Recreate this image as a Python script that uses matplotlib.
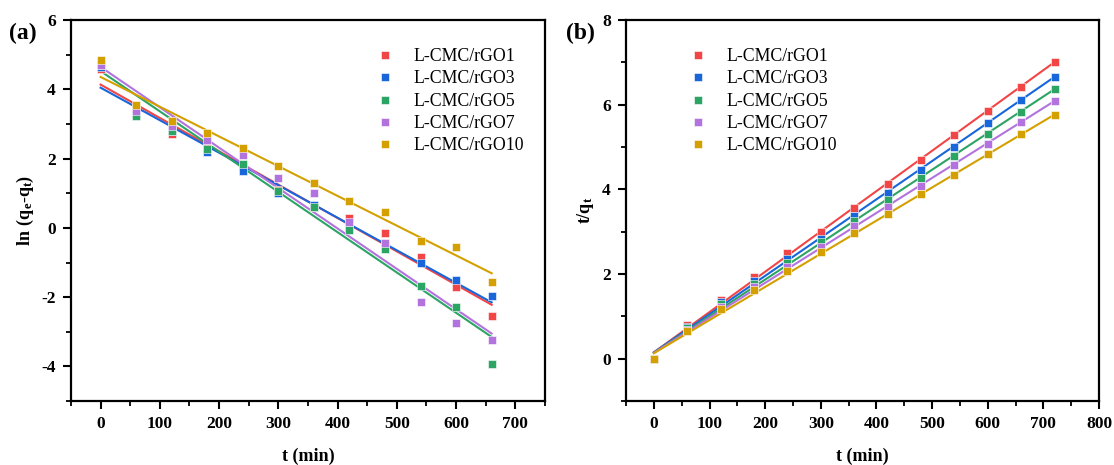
import matplotlib
matplotlib.use("Agg")
import matplotlib.pyplot as plt
from matplotlib.ticker import MultipleLocator

plt.rcParams['font.family'] = ['Liberation Serif', 'DejaVu Serif']
plt.rcParams['mathtext.fontset'] = 'custom'
plt.rcParams['mathtext.rm'] = 'Liberation Serif'
plt.rcParams['mathtext.bf'] = 'Liberation Serif:bold'
plt.rcParams['axes.unicode_minus'] = False

labels = ["L-CMC/rGO1", "L-CMC/rGO3", "L-CMC/rGO5", "L-CMC/rGO7", "L-CMC/rGO10"]
colors = ["#F24545", "#1866DA", "#2CA464", "#B273DE", "#D4A000"]

# (a) pseudo-first-order
t_a = [0, 60, 120, 180, 240, 300, 360, 420, 480, 540, 600, 660]
ln_rGO1 = [4.60, 3.45, 2.70, 2.30, 1.75, 1.10, 0.60, 0.29, -0.15, -0.85, -1.70, -2.54]
ln_rGO3 = [4.65, 3.30, 2.80, 2.19, 1.64, 1.02, 0.65, 0.00, -0.50, -1.00, -1.50, -1.97]
ln_rGO5 = [4.70, 3.22, 2.80, 2.29, 1.85, 1.08, 0.60, -0.06, -0.61, -1.67, -2.28, -3.94]
ln_rGO7 = [4.70, 3.37, 2.93, 2.53, 2.12, 1.45, 1.01, 0.16, -0.45, -2.13, -2.76, -3.24]
ln_rGO10 = [4.85, 3.55, 3.09, 2.74, 2.30, 1.78, 1.30, 0.79, 0.47, -0.39, -0.56, -1.55]
ln_series = [ln_rGO1, ln_rGO3, ln_rGO5, ln_rGO7, ln_rGO10]
# fitted line values read at t = 0 and t = 660
fit_a_t = [0, 660]
fit_a_start = [4.14, 4.05, 4.53, 4.65, 4.36]
fit_a_end = [-2.22, -2.15, -3.15, -3.05, -1.31]

# (b) pseudo-second-order
t_b = [0, 60, 120, 180, 240, 300, 360, 420, 480, 540, 600, 660, 720]
tq_rGO1 = [0, 0.80, 1.38, 1.94, 2.49, 2.99, 3.56, 4.13, 4.70, 5.28, 5.85, 6.43, 7.01]
tq_rGO3 = [0, 0.75, 1.33, 1.84, 2.36, 2.83, 3.38, 3.92, 4.45, 5.01, 5.56, 6.11, 6.66]
tq_rGO5 = [0, 0.72, 1.29, 1.76, 2.25, 2.75, 3.26, 3.75, 4.27, 4.78, 5.32, 5.84, 6.37]
tq_rGO7 = [0, 0.69, 1.23, 1.69, 2.16, 2.63, 3.13, 3.59, 4.08, 4.57, 5.07, 5.59, 6.09]
tq_rGO10 = [0, 0.66, 1.17, 1.62, 2.08, 2.51, 2.97, 3.42, 3.90, 4.35, 4.83, 5.30, 5.77]
tq_series = [tq_rGO1, tq_rGO3, tq_rGO5, tq_rGO7, tq_rGO10]
fit_b_t = [0, 720]
fit_b_start = [0.15, 0.15, 0.14, 0.14, 0.13]
fit_b_end = [7.01, 6.66, 6.37, 6.09, 5.77]

fig = plt.figure(figsize=(11.14, 4.65), dpi=100)
axA = fig.add_axes([0.0637, 0.1376, 0.4255, 0.819])
axB = fig.add_axes([0.562, 0.1376, 0.4246, 0.819])

ms = 5.8
for ys, s0, s1, c, lab in zip(ln_series, fit_a_start, fit_a_end, colors, labels):
    axA.plot(fit_a_t, [s0, s1], color=c, lw=1.5, zorder=2)
    axA.plot(t_a, ys, ls='none', marker='s', ms=ms, color=c, mec='#ffffff', mew=0.4,
             label=lab, zorder=3)

for ys, s0, s1, c, lab in zip(tq_series, fit_b_start, fit_b_end, colors, labels):
    axB.plot(fit_b_t, [s0, s1], color=c, lw=1.5, zorder=2)
    axB.plot(t_b, ys, ls='none', marker='s', ms=ms, color=c, mec='#ffffff', mew=0.4,
             label=lab, zorder=3)

axA.set_xlim(-50, 750)
axA.set_ylim(-5, 6)
axA.set_xticks([0, 100, 200, 300, 400, 500, 600, 700])
axA.xaxis.set_minor_locator(MultipleLocator(50))
axA.yaxis.set_major_locator(MultipleLocator(2))
axA.yaxis.set_minor_locator(MultipleLocator(1))

axB.set_xlim(-50, 800)
axB.set_ylim(-1, 8)
axB.set_xticks([0, 100, 200, 300, 400, 500, 600, 700, 800])
axB.xaxis.set_minor_locator(MultipleLocator(50))
axB.yaxis.set_major_locator(MultipleLocator(2))
axB.yaxis.set_minor_locator(MultipleLocator(1))

for ax in (axA, axB):
    for sp in ax.spines.values():
        sp.set_linewidth(1.6)
    ax.tick_params(which='major', direction='out', length=6, width=1.5, labelsize=12.5,
                   top=False, right=False, pad=5)
    ax.tick_params(which='minor', direction='out', length=3.5, width=1.3,
                   top=False, right=False)
    for lbl in ax.get_xticklabels() + ax.get_yticklabels():
        lbl.set_fontweight('bold')
    ax.set_xlabel('t (min)', fontsize=13, fontweight='bold', labelpad=11)

axA.set_ylabel(r'$\mathbf{ln\ (q_e}$-$\mathbf{q_t)}$', fontsize=13, labelpad=4)
axB.set_ylabel(r'$\mathbf{t/q_t}$', fontsize=13, labelpad=4)

legA = axA.legend(loc='upper left', bbox_to_anchor=(0.625, 0.95), frameon=False,
                  fontsize=12.8, handlelength=1.0, handletextpad=1.1,
                  labelspacing=0.3, borderpad=0)
legB = axB.legend(loc='upper left', bbox_to_anchor=(0.115, 0.95), frameon=False,
                  fontsize=12.8, handlelength=1.0, handletextpad=1.1,
                  labelspacing=0.3, borderpad=0)

fig.text(0.008, 0.915, '(a)', fontsize=17, fontweight='bold')
fig.text(0.508, 0.915, '(b)', fontsize=17, fontweight='bold')

fig.savefig('out.png', dpi=100)
